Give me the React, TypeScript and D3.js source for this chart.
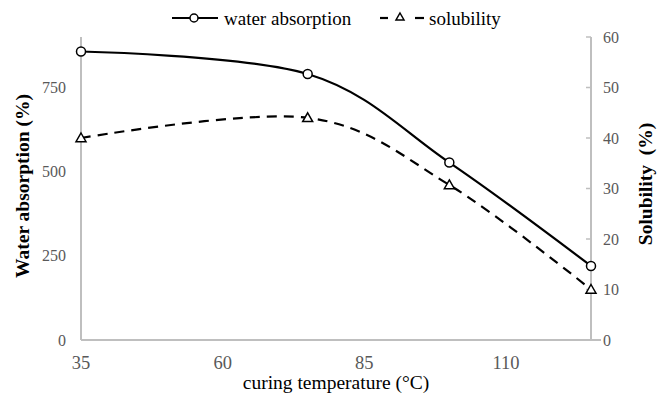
import React from "react";
import * as d3 from "d3";

const temps = [35, 75, 100, 125];
const waterAbsorption = [857, 790, 527, 220];
const solubility = [40, 44, 30.7, 10];
const xTicks = [35, 60, 85, 110];
const leftTicks = [0, 250, 500, 750];
const rightTicks = [0, 10, 20, 30, 40, 50, 60];

const W = 669;
const H = 406;
const FONT = "'Liberation Serif', 'Times New Roman', serif";

export default function App() {
  const x = d3.scaleLinear().domain([35, 125]).range([81, 591]);
  const yL = d3.scaleLinear().domain([0, 900]).range([340, 37]);
  const yR = d3.scaleLinear().domain([0, 60]).range([340, 37]);

  const waterPts: [number, number][] = temps.map((t, i) => [x(t), yL(waterAbsorption[i])]);
  const solPts: [number, number][] = temps.map((t, i) => [x(t), yR(solubility[i])]);
  const line = d3.line().curve(d3.curveCardinal.tension(0));

  const tri = (cx: number, cy: number, s = 5) =>
    `M${cx},${cy - s}L${cx + s * 1.0},${cy + s * 0.75}L${cx - s * 1.0},${cy + s * 0.75}Z`;

  const axisColor = "#bfbfbf";
  const tickColor = "#595959";

  return (
    <svg width={W} height={H} style={{ position: "absolute", left: 0, top: 0, background: "#fff" }} fontFamily={FONT}>
      <rect width={W} height={H} fill="#fff" />
      {/* axes */}
      <line x1={x(35)} x2={x(35)} y1={yL(900)} y2={yL(0)} stroke={axisColor} strokeWidth={2} />
      <line x1={x(125)} x2={x(125)} y1={yR(60)} y2={yR(0)} stroke={axisColor} strokeWidth={2} />
      <line x1={x(35)} x2={x(125) + 10} y1={yL(0)} y2={yL(0)} stroke={axisColor} strokeWidth={2} />
      {rightTicks.map((t) => (
        <line key={"rt" + t} x1={x(125) - 5} x2={x(125)} y1={yR(t)} y2={yR(t)} stroke={axisColor} strokeWidth={1.5} />
      ))}
      {/* tick labels */}
      {leftTicks.map((t) => (
        <text key={"lt" + t} x={66} y={yL(t)} dy="0.35em" textAnchor="end" fontSize={16} fill={tickColor}>
          {t}
        </text>
      ))}
      {rightTicks.map((t) => (
        <text key={"rl" + t} x={603} y={yR(t)} dy="0.35em" textAnchor="start" fontSize={16} fill={tickColor}>
          {t}
        </text>
      ))}
      {xTicks.map((t) => (
        <text key={"xt" + t} x={x(t)} y={369} textAnchor="middle" fontSize={18.5} fill={tickColor}>
          {t}
        </text>
      ))}
      {/* axis titles */}
      <text x={336} y={389} textAnchor="middle" fontSize={19.5} fill="#000">
        curing temperature (°C)
      </text>
      <text transform={`translate(29,186) rotate(-90)`} textAnchor="middle" fontSize={19.5} fontWeight="bold" fill="#000">
        {"Water absorption\u00a0(%)"}
      </text>
      <text transform={`translate(652,184) rotate(-90)`} textAnchor="middle" fontSize={19.5} fontWeight="bold" fill="#000">
        {"Solubility\u00a0\u00a0(%)"}
      </text>
      {/* series */}
      <path d={line(waterPts) || ""} fill="none" stroke="#000" strokeWidth={2.2} />
      <path d={line(solPts) || ""} fill="none" stroke="#000" strokeWidth={2.2} strokeDasharray="10 7" />
      {waterPts.map(([px, py], i) => (
        <circle key={"wc" + i} cx={px} cy={py} r={4.5} fill="#fff" stroke="#000" strokeWidth={1.5} />
      ))}
      {solPts.map(([px, py], i) => (
        <path key={"st" + i} d={tri(px, py)} fill="#fff" stroke="#000" strokeWidth={1.5} />
      ))}
      {/* legend */}
      <line x1={172} x2={218} y1={18} y2={18} stroke="#000" strokeWidth={2.2} />
      <circle cx={194} cy={18} r={4} fill="#fff" stroke="#000" strokeWidth={1.5} />
      <text x={224} y={18} dy="0.35em" fontSize={19} fill="#000">water absorption</text>
      <line x1={380} x2={388} y1={18} y2={18} stroke="#000" strokeWidth={2.2} />
      <line x1={415} x2={424} y1={18} y2={18} stroke="#000" strokeWidth={2.2} />
      <path d={tri(400, 17, 4)} fill="#fff" stroke="#000" strokeWidth={1.5} />
      <text x={429} y={18} dy="0.35em" fontSize={19} fill="#000">solubility</text>
    </svg>
  );
}
